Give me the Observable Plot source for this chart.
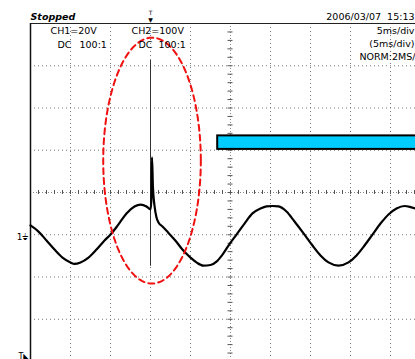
<!DOCTYPE html>
<html>
<head>
<meta charset="utf-8">
<script src="https://cdn.jsdelivr.net/npm/d3@7"></script>
<script src="https://cdn.jsdelivr.net/npm/@observablehq/plot@0.6"></script>
<style>
html, body { margin: 0; padding: 0; background: #fff; overflow: hidden; }
#chart svg { display: block; overflow: hidden; }
</style>
</head>
<body>
<div id="chart"></div>
<script>
// CH1 trace: time (ms from left edge, 5 ms/div), voltage (V, 20 V/div, ground = 0)
const ch1Time = [0, 1, 2, 3, 4, 5, 5.5, 6.25, 7.25, 8.25, 9.25, 10, 11, 12, 13, 13.75, 14.5, 15,
  15.1, 15.19, 15.3, 15.5, 15.75, 16, 16.5, 17.1, 18.1, 19.1, 20, 20.75, 21.6, 22.5, 23.25, 24,
  24.75, 25.75, 26.75, 27.75, 28.75, 29.5, 30.25, 31, 32, 33, 34.25, 35.25, 36.25, 37.25, 38.5,
  39.75, 40.75, 41.75, 42.75, 43.75, 44.75, 45.75, 46.75, 47.5, 48.1];
const ch1Volts = [4.4, 1.5, -2.7, -7.0, -10.8, -13.1, -13.8, -13.1, -10.8, -7.0, -2.7, 0.1, 4.9, 10.1, 13.4, 14.3, 13.4, 12.0,
  16, 36.6, 22.8, 13.8, 8.2, 5.8, 3.9, 1.5, -2.7, -7.5, -10.8, -13.1, -14.6, -14.3, -12.7, -9.4,
  -5.1, 0.1, 5.3, 10.1, 12.4, 13.4, 13.6, 13.4, 11.0, 6.3, 0.1, -5.1, -9.8, -13.1, -14.6,
  -13.1, -9.8, -5.1, 0.1, 5.3, 9.6, 12.4, 13.6, 13.1, 12.4];

// CH2 transient (vertical line at the trigger point)
const ch2Time = [15, 15];
const ch2Volts = [-14.5, 82.5];

// Grid (divisions) and fine ticks on the centre cross
const gridTimes = [5, 10, 15, 20, 30, 35, 40, 45];
const gridVolts = [80, 60, 40, 0, -20, -40];
const centerTime = [25];
const centerVolt = [20];
const frameTime = [0];
const frameVolt = [100];
const fineTimeTicks = d3.range(0, 49, 1);
const fineVoltTicks = d3.range(-56, 100, 4);

// Highlight ellipse around the spike: centre and radii (ms, V)
const ellipseCenter = [15.19, 35.1];
const ellipseRadii = [6.1, 58.2];

// Blue bar (x1, x2 in ms; y1, y2 in V)
const barTimes = [23.4, 52];
const barVolts = [40.4, 46.8];

// Trigger time
const triggerTime = [15];

// Labels
const statusLabel = "Stopped";
const dateLabel = "2006/03/07  15:13";
const ch1Label = "CH1=20V";
const ch2Label = "CH2=100V";
const couplingLabel = "DC";
const probeLabel = "100:1";
const timebaseLabels = ["5ms/div", "(5ms/div)", "NORM:2MS/"];

const trace = ch1Time.map((t, i) => ({t, v: ch1Volts[i]}));
const ch2 = ch2Time.map((t, i) => ({t, v: ch2Volts[i]}));
const ellipse = d3.range(0, 361, 3).map(a => ({
  t: ellipseCenter[0] + ellipseRadii[0] * Math.cos(a * Math.PI / 180),
  v: ellipseCenter[1] + ellipseRadii[1] * Math.sin(a * Math.PI / 180)
}));
const bar = [{x1: barTimes[0], x2: barTimes[1], y1: barVolts[0], y2: barVolts[1]}];

const F = "DejaVu Sans";
const lbl = (txt, o) => Plot.text([txt], {text: d => d, fontFamily: F, fontSize: 9.5, lineAnchor: "bottom", fill: "#000", ...o});

const chart = Plot.plot({
  width: 415,
  height: 359,
  marginTop: 23,
  marginLeft: 30,
  marginRight: 0,
  marginBottom: 0,
  x: {domain: [0, 48.125], axis: null},
  y: {domain: [-59.05, 100], axis: null},
  style: {background: "#fff", overflow: "hidden"},
  marks: [
    // dotted grid
    Plot.ruleX(gridTimes, {stroke: "#777", strokeDasharray: "1,3"}),
    Plot.ruleY(gridVolts, {stroke: "#777", strokeDasharray: "1,3"}),
    // centre cross
    Plot.ruleX(centerTime, {stroke: "#888", strokeDasharray: "1,2"}),
    Plot.ruleY(centerVolt, {stroke: "#888", strokeDasharray: "1,2"}),
    Plot.ruleX(fineTimeTicks, {x: d => d, y1: centerVolt[0], y2: centerVolt[0], insetTop: -2, insetBottom: -2, stroke: "#555"}),
    Plot.ruleY(fineVoltTicks, {y: d => d, x1: centerTime[0], x2: centerTime[0], insetLeft: -2.5, insetRight: -2.5, stroke: "#555"}),
    // frame
    Plot.ruleY(frameVolt, {stroke: "#222"}),
    Plot.ruleX(frameTime, {stroke: "#111", strokeWidth: 1.5}),
    // blue bar
    Plot.rect(bar, {x1: "x1", x2: "x2", y1: "y1", y2: "y2", fill: "#00CCFF", stroke: "#000", strokeWidth: 2}),
    // CH2 line
    Plot.line(ch2, {x: "t", y: "v", stroke: "#333", strokeWidth: 1}),
    // CH1 trace
    Plot.line(trace, {x: "t", y: "v", stroke: "#000", strokeWidth: 2.2, curve: "monotone-x"}),
    // red ellipse
    Plot.line(ellipse, {x: "t", y: "v", stroke: "#F01010", strokeWidth: 2, strokeDasharray: "6,4", curve: "linear-closed"}),
    // header texts
    lbl(statusLabel, {frameAnchor: "top-left", textAnchor: "start", dy: -4, fontWeight: "bold", fontStyle: "italic"}),
    lbl(dateLabel, {frameAnchor: "top-right", textAnchor: "end", dx: -1, dy: -4}),
    lbl(ch1Label, {frameAnchor: "top-left", textAnchor: "start", dx: 20, dy: 10}),
    lbl(couplingLabel, {frameAnchor: "top-left", textAnchor: "start", dx: 27, dy: 24}),
    lbl(probeLabel, {frameAnchor: "top-left", textAnchor: "start", dx: 49, dy: 24}),
    lbl(ch2Label, {frameAnchor: "top-left", textAnchor: "start", dx: 101, dy: 10}),
    lbl(couplingLabel, {frameAnchor: "top-left", textAnchor: "start", dx: 108, dy: 24}),
    lbl(probeLabel, {frameAnchor: "top-left", textAnchor: "start", dx: 128, dy: 24}),
    lbl(timebaseLabels[0], {frameAnchor: "top-right", textAnchor: "end", dx: -1, dy: 10}),
    lbl(timebaseLabels[1], {frameAnchor: "top-right", textAnchor: "end", dx: -1, dy: 23.5}),
    lbl(timebaseLabels[2], {frameAnchor: "top-right", textAnchor: "end", dx: 0, dy: 36}),
    // trigger markers
    Plot.text(triggerTime, {x: d => d, text: () => "T", frameAnchor: "top", fontFamily: F, fontSize: 6, dy: -9, lineAnchor: "bottom", fill: "#000"}),
    Plot.text(triggerTime, {x: d => d, text: () => "▼", frameAnchor: "top", fontFamily: F, fontSize: 6, dy: -2, lineAnchor: "bottom", fill: "#000"}),
    Plot.text([0], {y: d => d, text: () => "1⏚", frameAnchor: "left", textAnchor: "end", dx: -2, dy: 2, fontFamily: F, fontSize: 9, fill: "#000"}),
    lbl("T◣", {frameAnchor: "bottom-left", textAnchor: "end", dx: -1, dy: -1, fontSize: 8})
  ]
});
document.getElementById("chart").appendChild(chart);
</script>
</body>
</html>
